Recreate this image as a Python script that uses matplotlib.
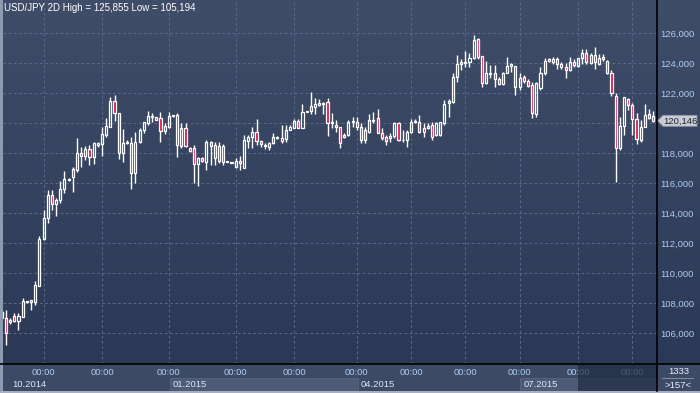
import numpy as np
import matplotlib.pyplot as plt
from matplotlib.patches import Rectangle, Polygon

plt.rcParams['font.family'] = ['Liberation Sans', 'DejaVu Sans']

# ---- USD/JPY 2D candles ----
opens = [
    107.00, 106.98, 106.70, 107.13, 106.82, 107.09, 108.05, 108.20, 108.09, 109.16,
    112.25, 113.65, 115.20, 114.58, 114.87, 115.58, 116.20, 116.42, 116.87, 117.98,
    117.80, 118.24, 117.71, 118.53, 118.58, 119.20, 119.76, 121.47, 120.64, 117.98,
    118.67, 118.64, 116.64, 118.76, 119.53, 120.02, 120.38, 120.38, 120.31, 119.49,
    119.76, 120.45, 120.53, 119.64, 119.64, 118.31, 118.31, 117.27, 117.64, 117.42,
    118.72, 118.53, 118.47, 118.47, 117.40, 117.36, 117.04, 117.49, 116.98, 118.82,
    119.04, 119.38, 118.82, 118.47, 118.42, 118.64, 119.00, 118.98, 118.93, 119.53,
    119.69, 120.16, 119.69, 120.74, 120.82, 121.09, 121.20, 121.27, 121.42, 120.09,
    119.87, 119.71, 119.20, 119.20, 120.05, 120.09, 119.71, 118.87, 119.42, 120.10,
    120.31, 119.36, 119.04, 119.00, 119.13, 119.98, 118.85, 118.87, 119.38, 120.09,
    120.09, 119.64, 119.64, 119.87, 119.20, 119.20, 119.98, 121.31, 121.42, 123.04,
    123.91, 124.02, 124.04, 124.31, 125.60, 124.47, 122.64, 123.29, 123.31, 122.91,
    122.60, 123.36, 123.80, 123.80, 122.42, 123.04, 122.82, 122.53, 120.60, 122.31,
    123.31, 124.13, 124.04, 124.24, 123.91, 123.71, 123.53, 124.09, 123.80, 124.31,
    124.64, 124.02, 124.53, 123.91, 124.42, 124.16, 123.36, 121.80, 118.31, 119.80,
    121.58, 121.20, 120.24, 118.87, 119.76, 120.58, 120.49]
closes = [
    107.40, 105.98, 106.87, 106.82, 107.13, 108.13, 108.10, 108.09, 109.20, 112.25,
    113.65, 115.20, 114.58, 114.87, 115.58, 116.25, 116.25, 116.93, 117.98, 117.80,
    118.24, 117.71, 118.64, 118.64, 119.27, 119.80, 121.47, 120.64, 117.98, 118.64,
    118.72, 116.64, 118.76, 119.53, 120.09, 120.47, 120.47, 120.22, 119.49, 119.80,
    120.47, 120.50, 118.53, 118.47, 118.47, 118.13, 117.27, 117.64, 117.49, 118.76,
    118.49, 117.64, 117.49, 117.42, 117.44, 117.39, 117.49, 117.31, 118.87, 119.04,
    119.38, 118.82, 118.60, 118.51, 118.64, 119.04, 119.06, 118.82, 119.53, 119.71,
    120.16, 119.69, 120.71, 120.78, 121.13, 121.27, 121.31, 121.35, 120.02, 119.98,
    119.71, 118.64, 119.04, 120.04, 120.10, 119.71, 118.87, 119.53, 120.20, 120.20,
    119.36, 118.98, 118.82, 119.13, 119.98, 118.87, 118.89, 119.38, 120.09, 120.16,
    119.38, 119.38, 119.82, 119.09, 119.98, 120.04, 121.27, 121.49, 123.04, 123.93,
    124.09, 124.06, 124.31, 125.53, 124.42, 122.64, 123.31, 123.33, 122.91, 122.60,
    123.36, 123.80, 123.93, 122.42, 122.98, 122.82, 122.49, 120.69, 122.64, 123.31,
    124.13, 124.24, 124.24, 123.93, 123.71, 123.53, 124.09, 123.87, 124.31, 124.64,
    124.09, 124.53, 124.09, 124.31, 124.24, 123.36, 121.98, 118.31, 119.80, 121.71,
    121.20, 120.24, 118.91, 119.71, 120.53, 120.31, 120.146]
highs = [
    107.53, 107.53, 106.98, 107.36, 107.36, 108.30, 108.15, 108.20, 109.47, 112.47,
    114.20, 115.53, 115.53, 114.98, 116.13, 116.80, 116.30, 117.09, 118.98, 118.42,
    118.47, 118.53, 118.76, 118.76, 119.76, 120.31, 121.76, 121.87, 120.64, 119.60,
    118.87, 119.09, 119.38, 119.69, 120.09, 120.82, 120.64, 120.40, 120.76, 119.98,
    120.71, 120.53, 120.64, 120.00, 119.98, 118.42, 118.53, 117.76, 117.71, 118.87,
    118.83, 118.76, 118.76, 118.60, 117.47, 117.42, 117.64, 117.80, 119.20, 119.20,
    119.76, 120.27, 118.87, 118.64, 118.76, 119.31, 119.10, 119.87, 119.87, 119.87,
    120.24, 120.24, 121.27, 120.82, 122.05, 121.69, 121.60, 121.42, 121.64, 120.64,
    120.20, 119.76, 119.31, 120.20, 120.38, 120.42, 119.98, 119.76, 120.60, 120.76,
    120.91, 119.64, 119.20, 119.31, 120.09, 120.09, 119.53, 119.53, 120.24, 120.24,
    120.53, 119.98, 120.00, 120.09, 120.09, 120.09, 121.53, 121.60, 123.36, 124.51,
    124.24, 124.82, 124.69, 125.855, 125.64, 124.47, 124.13, 123.87, 123.87, 123.09,
    123.42, 124.38, 124.02, 123.80, 123.31, 123.20, 122.91, 122.76, 122.76, 123.76,
    124.31, 124.33, 124.42, 124.42, 124.09, 123.98, 124.42, 124.24, 124.36, 124.91,
    124.91, 124.69, 125.09, 124.60, 124.60, 124.20, 123.53, 121.98, 120.38, 121.71,
    121.64, 121.31, 120.64, 120.20, 121.29, 120.96, 120.78]
lows = [
    106.98, 105.194, 106.63, 106.76, 106.20, 107.05, 108.00, 107.53, 107.87, 109.10,
    112.20, 113.36, 114.20, 113.83, 114.64, 115.31, 116.15, 115.42, 116.75, 117.09,
    117.53, 117.20, 117.24, 118.42, 117.80, 119.09, 119.71, 120.16, 117.60, 117.42,
    118.60, 115.60, 116.00, 118.64, 119.31, 119.87, 120.09, 120.20, 118.76, 119.24,
    119.64, 120.42, 117.76, 118.31, 118.40, 118.09, 116.00, 115.80, 117.42, 116.87,
    117.20, 117.20, 117.31, 117.20, 117.38, 117.33, 116.98, 116.87, 116.98, 118.31,
    118.31, 118.53, 118.42, 118.24, 118.20, 118.60, 118.95, 118.69, 118.71, 119.53,
    119.69, 119.64, 119.64, 120.70, 120.60, 120.60, 121.16, 120.60, 119.16, 119.64,
    119.42, 118.31, 118.98, 119.13, 119.71, 119.53, 118.64, 118.69, 119.36, 119.98,
    119.31, 118.87, 118.53, 118.76, 118.98, 118.82, 118.76, 118.42, 119.31, 120.00,
    119.31, 119.06, 119.58, 118.87, 119.13, 119.13, 119.87, 120.40, 121.31, 122.76,
    123.53, 123.76, 123.76, 124.27, 124.27, 122.42, 122.60, 122.98, 122.42, 122.53,
    122.53, 123.31, 123.42, 121.87, 122.20, 122.69, 122.42, 120.36, 120.42, 122.20,
    123.20, 124.04, 123.93, 123.60, 123.60, 122.98, 123.49, 123.76, 123.74, 123.91,
    123.96, 123.96, 123.60, 123.87, 124.16, 123.27, 121.80, 116.09, 118.20, 119.20,
    120.87, 119.20, 118.60, 118.71, 119.71, 120.24, 120.09]

y_ticks = [106, 108, 110, 112, 114, 116, 118, 120, 122, 124, 126]
time_idx = [10, 24, 40, 56, 70, 85, 98, 111, 124, 138, 151]
month_labels = ['10.2014', '01.2015', '04.2015', '07.2015']
month_idx = [1.6, 40, 85, 124]

W, H = 700, 393
BG_TOP, BG_BOT = '#404d69', '#2b3956'
TXT = '#aecbf0'
RED = '#e0124a'

fig = plt.figure(figsize=(7, 3.93), dpi=100)

# background layer in pixel coordinates
bg = fig.add_axes([0, 0, 1, 1], zorder=0)
bg.set_xlim(0, W)
bg.set_ylim(H, 0)
bg.axis('off')
c0 = np.array([int(BG_TOP[i:i + 2], 16) for i in (1, 3, 5)]) / 255
c1 = np.array([int(BG_BOT[i:i + 2], 16) for i in (1, 3, 5)]) / 255
t = np.linspace(0, 1, 200)[:, None, None]
grad = c0 + (c1 - c0) * t
bg.imshow(np.repeat(grad, 2, axis=1), extent=(0, W, 364, 0), aspect='auto', interpolation='bilinear')
bg.add_patch(Rectangle((0, 364), W, H - 364, color='#3d4a65', lw=0))
bg.add_patch(Rectangle((169.5, 378), 358 - 169.5, 13, facecolor='#4d5b76', edgecolor='#56647e', lw=0.6))
bg.add_patch(Rectangle((519.5, 378), 657 - 519.5, 13, facecolor='#4d5b76', edgecolor='#56647e', lw=0.6))
bg.add_patch(Rectangle((0, 0), 2.5, H, color='#8e9ab0', lw=0))
bg.add_patch(Rectangle((0, 391), W, 2, color='#a7b0c0', lw=0))

# main price axes
ax = fig.add_axes([3 / W, 1 - 364 / H, 654 / W, 364 / H], zorder=1)
ax.patch.set_alpha(0)
for s in ax.spines.values():
    s.set_visible(False)
ax.set_xlim(0.29, 156.9)
ax.set_ylim(103.933, 128.2)

x = np.arange(len(opens))
o = np.array(opens)
c = np.array(closes)
hi = np.array(highs)
lo = np.array(lows)
top = np.maximum(o, c)
bot = np.minimum(o, c)
ax.vlines(x, top, hi, color='white', lw=1.0, zorder=3)
ax.vlines(x, lo, bot, color='white', lw=1.0, zorder=3)
down = c < o
ax.bar(x[down], (top - bot)[down], bottom=bot[down], width=0.5,
       facecolor=RED, edgecolor='white', lw=0.9, zorder=4)
ax.bar(x[~down], (top - bot)[~down], bottom=bot[~down], width=0.5,
       facecolor='none', edgecolor='white', lw=0.9, zorder=4)

last = closes[-1]
ax.yaxis.tick_right()
ax.set_yticks(y_ticks)
# the 120,000 label sits under the last-price tag, so it is not shown
ax.set_yticklabels(['' if abs(v - last) < 1 else f'{v},000' for v in y_ticks])
ax.set_xticks(time_idx)
ax.set_xticklabels(['00:00'] * len(time_idx))
ax.tick_params(axis='y', length=0, pad=2.3, labelsize=6.8, labelcolor=TXT)
ax.tick_params(axis='x', length=0, pad=3.2, labelsize=6.8, labelcolor=TXT)
ax.grid(color='#5b6a8b', linestyle=(0, (2.5, 2.5)), linewidth=0.75)

for lab, mi in zip(month_labels, month_idx):
    ax.text(mi + 0.9, -0.055, lab, transform=ax.get_xaxis_transform(),
            ha='left', va='center', fontsize=6.8, color='#dbe6f6', clip_on=False)

# overlay layer
fg = fig.add_axes([0, 0, 1, 1], zorder=2)
fg.set_xlim(0, W)
fg.set_ylim(H, 0)
fg.axis('off')
fg.add_patch(Rectangle((578, 364.5), 657 - 578, 26.5, color='#1f2b42', alpha=0.7, lw=0))
fg.plot([657, 657], [0, 391], color='black', lw=1.2)
fg.plot([0, W], [364, 364], color='black', lw=1.2)

# last price tag
ty = (128.2 - last) / (128.2 - 103.933) * 364
fg.add_patch(Polygon([(657.5, ty), (663, ty - 5.5), (697, ty - 5.5), (697, ty + 5.5), (663, ty + 5.5)],
                     closed=True, facecolor='#c9ccd2', edgecolor='#8d94a2', lw=0.6))
fg.text(680.5, ty + 0.3, f'{last:.3f}'.replace('.', ','), ha='center', va='center',
        fontsize=6.8, color='#1c2434')

fg.text(678.5, 371.5, '1333', ha='center', va='center', fontsize=6.8, color='#e8eef8')
fg.plot([662, 693], [378, 378], color='#7c879c', lw=0.8)
fg.text(678.5, 385, '>157<', ha='center', va='center', fontsize=6.8, color='#e8eef8')

fig.text(4 / W, 1 - 8 / H, 'USD/JPY 2D High = 125,855 Low = 105,194', ha='left', va='center',
         fontsize=7.0, color='white', zorder=5)

fig.savefig('out.png', dpi=100)
